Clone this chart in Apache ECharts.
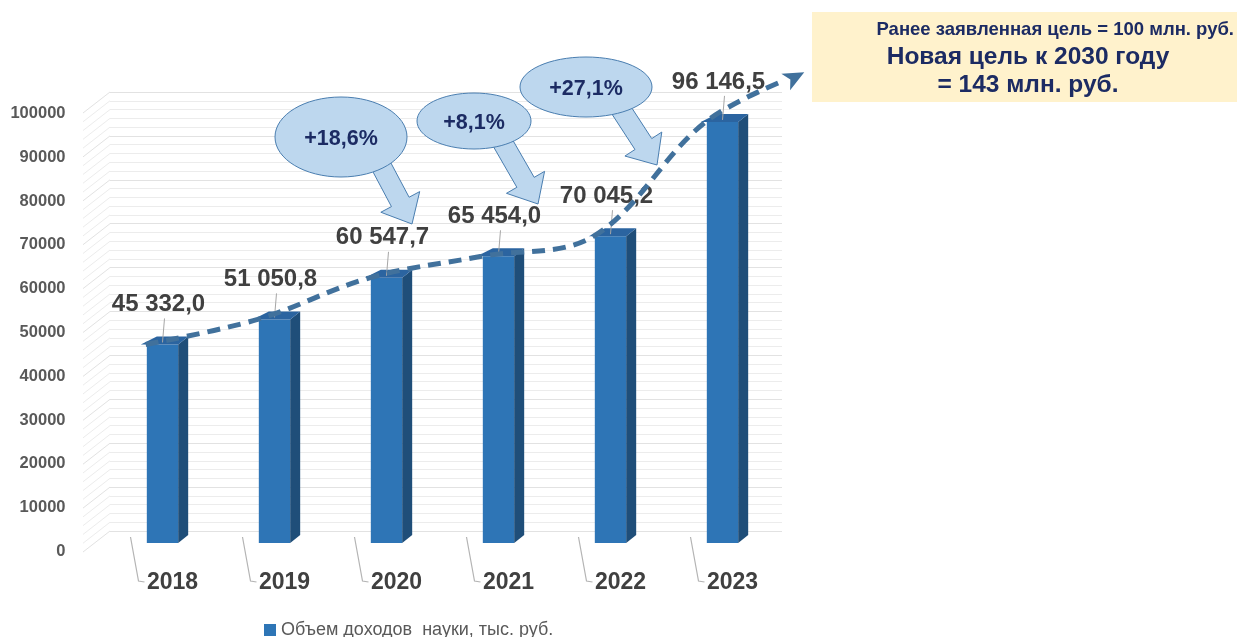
<!DOCTYPE html>
<html>
<head>
<meta charset="utf-8">
<script src="https://cdn.jsdelivr.net/npm/echarts@6/dist/echarts.min.js"></script>
<style>
  html, body { margin: 0; padding: 0; background: #fff; }
  #chart { width: 1237px; height: 637px; }
</style>
</head>
<body>
<div id="chart"></div>
<script>
// data
let years = ['2018', '2019', '2020', '2021', '2022', '2023'];
let income = [45332.0, 51050.8, 60547.7, 65454.0, 70045.2, 96146.5];
let growthLabels = ['+18,6%', '+8,1%', '+27,1%'];
let seriesName = 'Объем доходов  науки, тыс. руб.';
let goalLines = ['Ранее заявленная цель = 100 млн. руб.', 'Новая цель к 2030 году', '= 143 млн. руб.'];
// where the dashed trend arrow points (category position, value)
let trendEnd = [5.73, 107500];

const font = '"Liberation Sans", Arial, sans-serif';
const navy = '#1c2b63';

function fmt(v) {
    let parts = v.toFixed(1).split('.');
    return parts[0].replace(/\B(?=(\d{3})+(?!\d))/g, ' ') + ',' + parts[1];
}

function renderBar(params, api) {
    let i = api.value(0), v = api.value(1);
    let top = api.coord([i, v]);
    let base = api.coord([i, 0]);
    let bw = api.size([1, 0])[0] * 0.28;
    let cx = top[0];
    let x0 = cx - bw / 2, x1 = cx + bw / 2;
    let dx = 10, dy = 8;
    return {
        type: 'group',
        children: [
            { type: 'polyline', shape: { points: [[cx - 32, base[1] - 6], [cx - 24, base[1] + 38], [cx - 18, base[1] + 39]] },
              style: { stroke: '#b4b4b4', lineWidth: 1.2, fill: null } },
            { type: 'rect', shape: { x: x0, y: top[1], width: bw, height: base[1] - top[1] }, style: { fill: '#2e75b6' } },
            { type: 'polygon', shape: { points: [[x1, top[1]], [x1 + dx, top[1] - dy], [x1 + dx, base[1] - dy], [x1, base[1]]] },
              style: { fill: '#1f4e79' } },
            { type: 'polygon', shape: { points: [[x0 - 6, top[1]], [x0 + dx, top[1] - dy], [x1 + dx, top[1] - dy], [x1, top[1]]] },
              style: { fill: '#2b64a0' } },
            { type: 'line', shape: { x1: cx + 2, y1: top[1] - 26, x2: cx, y2: top[1] - 2 },
              style: { stroke: '#a6a6a6', lineWidth: 1 } },
            { type: 'text', z2: 10, style: { text: fmt(v), x: cx - 4, y: top[1] - 40, align: 'center', verticalAlign: 'middle',
              fill: '#404040', font: 'bold 24px ' + font } }
        ]
    };
}

function renderWallEdges(params, api) {
    let children = [];
    for (let v = 0; v <= 100000; v += 2000) {
        let p = api.coord([0, v]);
        let x = params.coordSys.x;
        children.push({ type: 'line', shape: { x1: x - 27, y1: p[1] + 21, x2: x, y2: p[1] },
            style: { stroke: v % 10000 === 0 ? '#e2e2e2' : '#ececec', lineWidth: 1 } });
    }
    return { type: 'group', children: children };
}

function arrowPoints(sx, sy, tx, ty, shaft, head, headLen) {
    let len = Math.hypot(tx - sx, ty - sy);
    let ux = (tx - sx) / len, uy = (ty - sy) / len;
    let nx = -uy, ny = ux;
    let bx = tx - ux * headLen, by = ty - uy * headLen;
    return [
        [sx + nx * shaft, sy + ny * shaft],
        [bx + nx * shaft, by + ny * shaft],
        [bx + nx * head, by + ny * head],
        [tx, ty],
        [bx - nx * head, by - ny * head],
        [bx - nx * shaft, by - ny * shaft],
        [sx - nx * shaft, sy - ny * shaft]
    ];
}

function callout(cx, cy, rx, ry, arrowFrom, arrowTo, label) {
    return [
        { type: 'polygon', z: 50, shape: { points: arrowPoints(arrowFrom[0], arrowFrom[1], arrowTo[0], arrowTo[1], 10, 22, 25) },
          style: { fill: '#bdd7ee', stroke: '#4a7eb0', lineWidth: 1 } },
        { type: 'ellipse', z: 51, shape: { cx: cx, cy: cy, rx: rx, ry: ry },
          style: { fill: '#bdd7ee', stroke: '#4a7eb0', lineWidth: 1 } },
        { type: 'text', z: 52, style: { text: label, x: cx, y: cy + 2, align: 'center', verticalAlign: 'middle',
          fill: navy, font: 'bold 21.5px ' + font } }
    ];
}

let barData = income.map((v, i) => [i, v]);
let trendData = income.map((v, i) => [i - 0.15, v]);
trendData.push({ value: trendEnd, symbol: 'arrow', symbolSize: [14, 21], symbolRotate: -62,
    itemStyle: { color: '#41719c' } });

let option = {
    animation: false,
    backgroundColor: '#ffffff',
    textStyle: { fontFamily: font },
    grid: [
        { left: 110, right: 455, top: 92, bottom: 106 },
        { left: 106.5, right: 458.5, top: 105, bottom: 94 }
    ],
    legend: {
        data: [{ name: seriesName, icon: 'rect' }],
        left: 259, top: 616,
        itemWidth: 12, itemHeight: 12, itemGap: 5,
        textStyle: { fontSize: 18, color: '#595959', fontFamily: font }
    },
    xAxis: [
        { gridIndex: 0, type: 'category', data: years, show: false },
        { gridIndex: 1, type: 'category', data: years,
          axisLine: { show: false }, axisTick: { show: false },
          axisLabel: { margin: 28, fontSize: 23, fontWeight: 'bold', color: '#404040', padding: [0, 0, 0, 20] } },
        { gridIndex: 1, type: 'value', min: -0.5, max: 5.5, show: false }
    ],
    yAxis: [
        { gridIndex: 0, type: 'value', min: 0, max: 100000, interval: 10000,
          axisLabel: { show: false }, axisLine: { show: false }, axisTick: { show: false },
          splitLine: { lineStyle: { color: '#e2e2e2', width: 1 } },
          minorTick: { show: false, splitNumber: 5 },
          minorSplitLine: { show: true, lineStyle: { color: '#ececec', width: 1 } } },
        { gridIndex: 1, type: 'value', min: 0, max: 100000, interval: 10000,
          axisLine: { show: false }, axisTick: { show: false }, splitLine: { show: false },
          axisLabel: { margin: 41, fontSize: 16.5, fontWeight: 'bold', color: '#595959', verticalAlign: 'top',
                       formatter: v => String(v) } }
    ],
    series: [
        {
            type: 'custom',
            name: 'wall',
            xAxisIndex: 0, yAxisIndex: 0,
            silent: true,
            data: [[0, 0]],
            renderItem: renderWallEdges
        },
        {
            type: 'custom',
            name: seriesName,
            xAxisIndex: 1, yAxisIndex: 1,
            itemStyle: { color: '#2e75b6' },
            encode: { x: 0, y: 1 },
            data: barData,
            renderItem: renderBar,
            z: 3
        },
        {
            type: 'line',
            name: 'trend',
            xAxisIndex: 2, yAxisIndex: 1,
            data: trendData,
            smooth: 0.35,
            symbol: 'none',
            showSymbol: true,
            clip: false,
            lineStyle: { color: '#41719c', width: 5, type: [13, 8] },
            z: 5
        }
    ],
    graphic: [
        ...callout(341, 137, 66, 40, [378, 160], [412, 224], growthLabels[0]),
        ...callout(474, 121, 57, 28, [500, 138], [538, 204], growthLabels[1]),
        ...callout(586, 87, 66, 30, [616, 102], [657, 165], growthLabels[2]),
        { type: 'rect', z: 40, shape: { x: 812, y: 12, width: 425, height: 90 }, style: { fill: '#fff2cc' } },
        { type: 'text', z: 41, style: { text: goalLines[0], x: 1234, y: 30, align: 'right', verticalAlign: 'middle',
          fill: navy, font: 'bold 18.5px ' + font } },
        { type: 'text', z: 41, style: { text: goalLines[1], x: 1028, y: 57, align: 'center', verticalAlign: 'middle',
          fill: navy, font: 'bold 24.5px ' + font } },
        { type: 'text', z: 41, style: { text: goalLines[2], x: 1028, y: 85, align: 'center', verticalAlign: 'middle',
          fill: navy, font: 'bold 24.5px ' + font } }
    ]
};

let chart = echarts.init(document.getElementById('chart'));
chart.setOption(option);
</script>
</body>
</html>
